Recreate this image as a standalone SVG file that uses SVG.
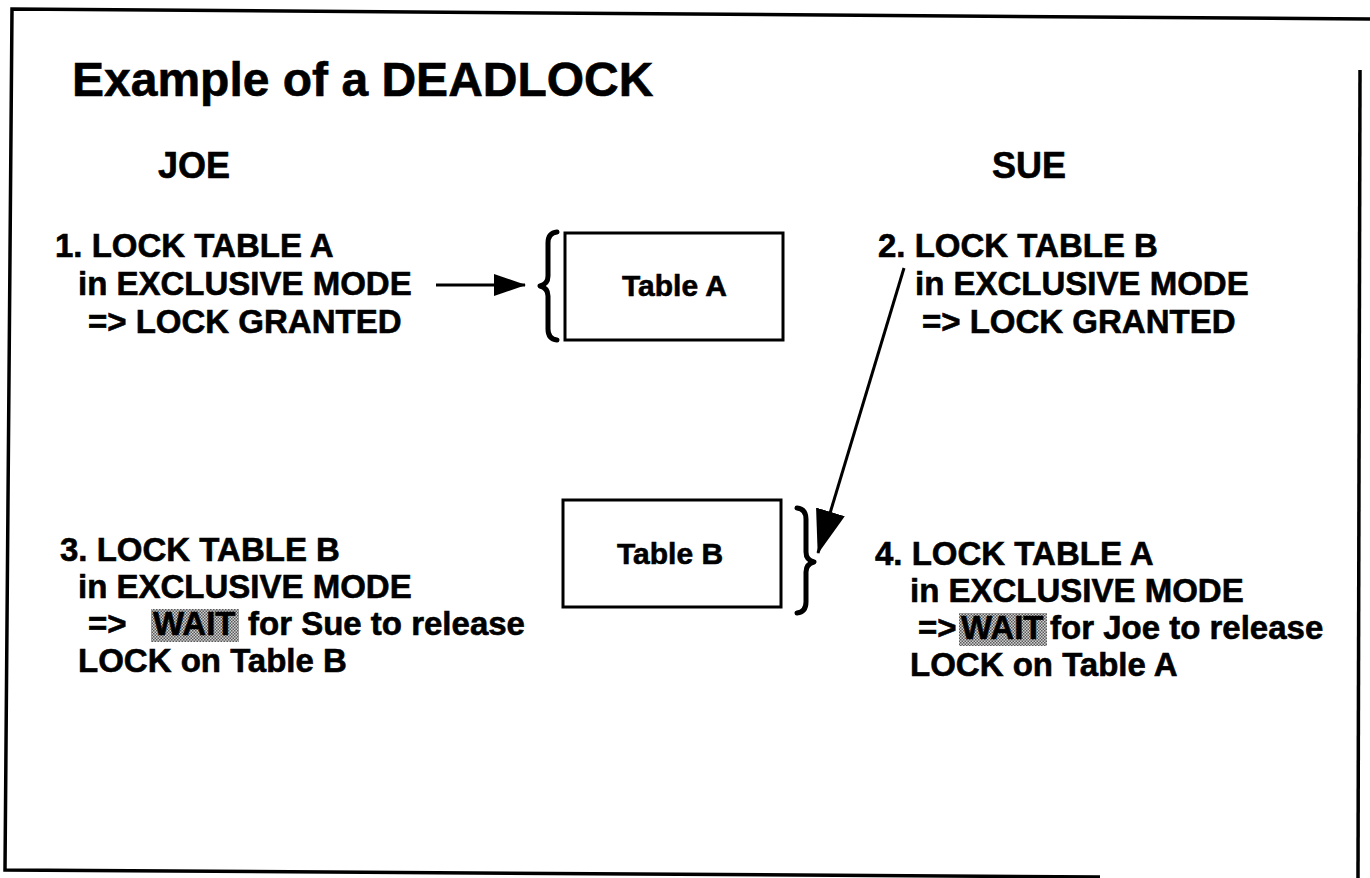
<svg xmlns="http://www.w3.org/2000/svg" width="1370" height="878" viewBox="0 0 1370 878">
<defs>
<style>
text{font-family:"Liberation Sans",Arial,Helvetica,sans-serif;font-weight:bold;fill:#000;stroke:#000;stroke-width:0.6}
.t{font-size:48px}
.h{font-size:36px}
.b{font-size:33px}
.lbl{font-size:30px}
.box{fill:#fff;stroke:#000;stroke-width:3}
.br{fill:none;stroke:#000;stroke-width:5;stroke-linecap:round;stroke-linejoin:round}
.con{fill:none;stroke:#000;stroke-width:3}
.frame{fill:none;stroke:#000;stroke-width:3.5}
.hl{fill:url(#dither)}
</style>
<pattern id="dither" width="3" height="3" patternUnits="userSpaceOnUse">
<rect width="3" height="3" fill="#d0d0d0"/>
<rect width="1.5" height="1.5" fill="#5a5a5a"/>
<rect x="1.5" y="1.5" width="1.5" height="1.5" fill="#5a5a5a"/>
</pattern>
<marker id="ah" markerUnits="userSpaceOnUse" markerWidth="32" markerHeight="22" viewBox="0 0 32 22" refX="31" refY="11" orient="auto">
<path d="M0,0 L32,11 L0,22 z" fill="#000"/>
</marker>
<marker id="ahL" markerUnits="userSpaceOnUse" markerWidth="44" markerHeight="30" viewBox="0 0 44 30" refX="43" refY="15" orient="auto">
<path d="M0,0 L44,15 L0,30 z" fill="#000"/>
</marker>
</defs>
<rect width="1370" height="878" fill="#fff"/>
<g id="frame">
<path class="frame" d="M1370,19 L12,9 L5,870 L1100,877"/>
<path class="frame" d="M1360,70 L1358,878"/>
</g>
<g id="title">
<text class="t" x="72" y="96">Example of a DEADLOCK</text>
</g>
<g id="joe"><text class="h" x="158" y="178">JOE</text></g>
<g id="sue"><text class="h" x="992" y="178">SUE</text></g>
<g id="step1">
<text class="b" x="55" y="257">1. LOCK TABLE A</text>
<text class="b" x="78" y="295">in EXCLUSIVE MODE</text>
<text class="b" x="88" y="333">=&gt; LOCK GRANTED</text>
</g>
<g id="tableA">
<rect class="box" x="565" y="233" width="218" height="107"/>
<path class="br" d="M557,232 Q548,233 548,243 L548,276 Q548,284 540,286 Q548,288 548,296 L548,329 Q548,339 557,340"/>
<text class="lbl" x="622" y="296">Table A</text>
</g>
<g id="step2">
<text class="b" x="878" y="257">2. LOCK TABLE B</text>
<text class="b" x="915" y="295">in EXCLUSIVE MODE</text>
<text class="b" x="922" y="333">=&gt; LOCK GRANTED</text>
</g>
<g id="tableB">
<rect class="box" x="563" y="500" width="218" height="107"/>
<path class="br" d="M797,508 Q806,509 806,519 L806,552 Q806,560 814,562 Q806,564 806,572 L806,602 Q806,612 797,613"/>
<text class="lbl" x="617" y="564">Table B</text>
</g>
<g id="step3">
<text class="b" x="60" y="561">3. LOCK TABLE B</text>
<text class="b" x="78" y="598">in EXCLUSIVE MODE</text>
<text class="b" x="88" y="635">=&gt;</text>
<rect class="hl" x="151" y="609" width="88" height="33"/>
<text class="b" x="153" y="635">WAIT</text>
<text class="b" x="248" y="635">for Sue to release</text>
<text class="b" x="78" y="672">LOCK on Table B</text>
</g>
<g id="step4">
<text class="b" x="875" y="565">4. LOCK TABLE A</text>
<text class="b" x="910" y="602">in EXCLUSIVE MODE</text>
<text class="b" x="918" y="639">=&gt;</text>
<rect class="hl" x="959" y="613" width="88" height="33"/>
<text class="b" x="961" y="639">WAIT</text>
<text class="b" x="1050" y="639">for Joe to release</text>
<text class="b" x="910" y="676">LOCK on Table A</text>
</g>
<g id="connectors">
<path class="con" d="M436,285 L525,285" marker-end="url(#ah)"/>
<path class="con" d="M904,268 L818,553" marker-end="url(#ahL)"/>
</g>
</svg>
